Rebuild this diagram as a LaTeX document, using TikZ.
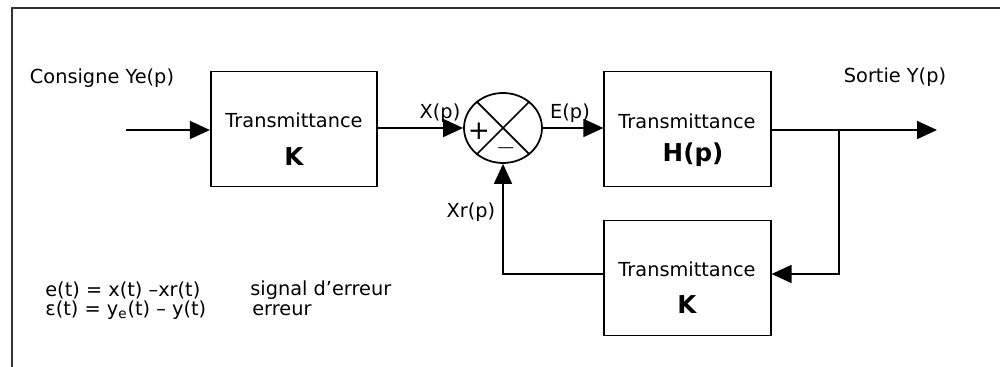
\documentclass[tikz,border=0pt]{standalone}
\usepackage{fontspec}
\setmainfont{DejaVu Sans}
\usetikzlibrary{arrows.meta,shapes.geometric}

\tikzset{
  bloc/.style={draw, line width=1pt, minimum width=3.33cm, minimum height=2.3cm},
  somme/.style={draw, ellipse, line width=1pt, minimum width=1.56cm, minimum height=1.4cm, inner sep=0pt},
  fleche/.style={line width=1pt, -{Triangle[length=0.4cm,width=0.36cm]}},
  lien/.style={line width=1pt},
  txt/.style={font=\fontsize{11}{13}\selectfont, inner sep=0pt},
  gras/.style={font=\fontsize{14}{16}\selectfont\bfseries, inner sep=0pt},
}

\begin{document}
\begin{tikzpicture}[x=0.02cm, y=-0.02cm]

    \useasboundingbox (0,0) rectangle (1000,367);

    % Draw the outline of the frame
    \draw[line width=1pt, black!80] (12,367) -- (12,8) -- (1000,8);

    % Blocks and the comparator
    \node[bloc] (k1) at (294,129) {};
    \node[somme] (sum) at (503,128) {};
    \node[bloc] (h) at (687.5,129) {};
    \node[bloc] (k2) at (687.5,278) {};
    \draw[lien] (sum.45) -- (sum.225);
    \draw[lien] (sum.135) -- (sum.315);

    % Texts inside the blocks
    \node[txt] (k1t) at (294,120) {Transmittance};
    \node[gras] (k1g) at (294,157) {K};
    \node[txt] (ht) at (687,121) {Transmittance};
    \node[gras] (hg) at (693,155) {H(p)};
    \node[txt] (k2t) at (687,269) {Transmittance};
    \node[gras] (k2g) at (687,305) {K};
    \node[font=\fontsize{15}{16}\selectfont, inner sep=0pt] (plus) at (479,131) {+};
    \node[font=\fontsize{15}{16}\selectfont, inner sep=0pt] (moins) at (506,148) {$-$};

    % Free ends of the connectors
    \coordinate (entree) at (126,130);
    \coordinate (sortie) at (937,130);
    \coordinate (noeud) at (839,130);

    % Draw the connectors
    \draw[fleche] (entree) -- (k1.west |- entree);
    \draw[fleche] (k1.east |- sum) -- (sum.west);
    \draw[fleche] (sum.east) -- (h.west |- sum);
    \draw[fleche] (h.east |- sortie) -- (sortie);
    \draw[fleche] (noeud) |- ([yshift=0.08cm]k2.east);
    \draw[fleche] ([yshift=0.08cm]k2.west) -| (sum.south);

    % Label the signals
    \node[txt] (consigne) at (102,78) {Consigne Ye(p)};
    \node[txt] (xp) at (440,113) {X(p)};
    \node[txt] (ep) at (570,113) {E(p)};
    \node[txt] (xrp) at (471,212) {Xr(p)};
    \node[txt] (sortiet) at (895,77) {Sortie Y(p)};

    % Equations
    \node[txt, anchor=west] (eq1) at (45,290) {e(t) = x(t) –xr(t)};
    \node[txt, anchor=west] (eq1b) at (250,290) {signal d’erreur};
    \node[txt, anchor=west] (eq2) at (45,310) {ε(t) = y\textsubscript{e}(t) – y(t)};
    \node[txt, anchor=west] (eq2b) at (252,310) {erreur};
\end{tikzpicture}
\end{document}
